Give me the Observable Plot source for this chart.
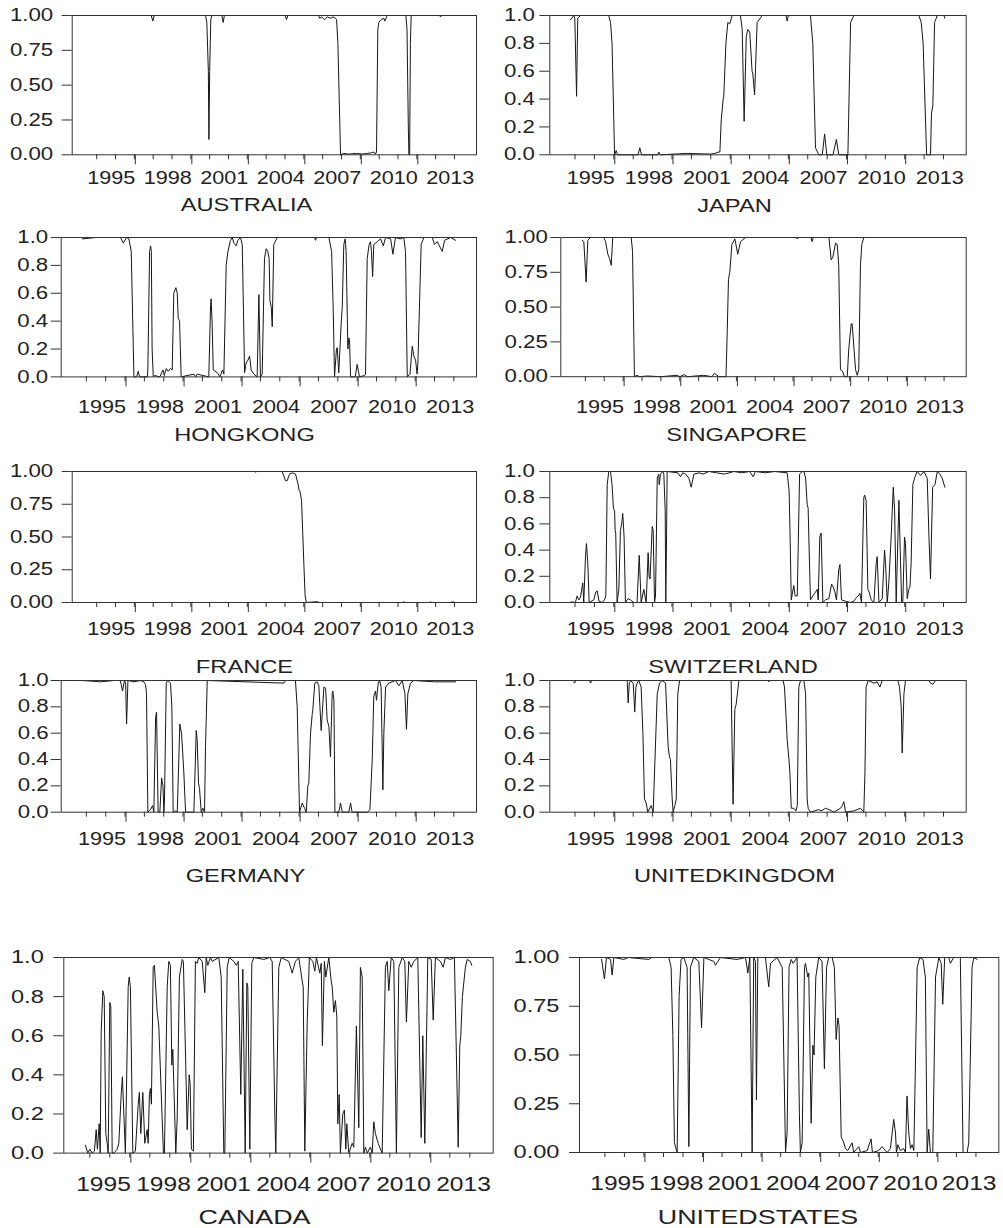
<!DOCTYPE html>
<html>
<head>
<meta charset="utf-8">
<script src="https://cdn.jsdelivr.net/npm/d3@7"></script>
<script src="https://cdn.jsdelivr.net/npm/@observablehq/plot@0.6"></script>
<style>
  body { margin: 0; background: #fff; }
  #fig { position: relative; width: 1003px; height: 1228px; overflow: hidden; background: #fff; }
  #fig svg { position: absolute; }
</style>
</head>
<body>
<div id="fig"></div>
<script>
// ---------- tick values / labels ----------
const minorYears = [1993,1994,1995,1996,1997,1998,1999,2000,2001,2002,2003,2004,2005,2006,2007,2008,2009,2010,2011,2012];
const majorYears = [1995,1998,2001,2004,2007,2010];
const lastLabelYear = [2013];
const yTicksQuarter = [0, 0.25, 0.5, 0.75, 1];
const yTicksFifth = [0, 0.2, 0.4, 0.6, 0.8, 1];
const xDomain = [1991.7, 2013.17];

// ---------- series: [decimal year, probability] ----------
const AUSTRALIA = [[1992.75,1.0],[1995.9,1.0],[1995.98,0.96],[1996.06,1.0],[1998.78,1.0],[1998.85,0.95],[1998.93,0.6],[1998.96,0.11],[1999.0,0.6],[1999.06,0.97],[1999.12,1.0],[1999.65,1.0],[1999.72,0.95],[1999.78,1.0],[2003.0,1.0],[2003.08,0.97],[2003.15,1.0],[2004.78,1.0],[2004.85,0.98],[2004.95,0.99],[2005.1,0.97],[2005.25,0.99],[2005.4,0.98],[2005.55,0.99],[2005.68,0.98],[2005.74,0.97],[2005.81,0.8],[2005.88,0.4],[2005.95,0.0],[2006.1,0.01],[2006.4,0.005],[2006.8,0.01],[2007.1,0.005],[2007.4,0.01],[2007.6,0.015],[2007.72,0.02],[2007.8,0.005],[2007.86,0.02],[2007.93,0.9],[2007.98,0.95],[2008.1,0.97],[2008.25,0.98],[2008.3,0.96],[2008.43,1.0],[2009.42,1.0],[2009.48,0.9],[2009.55,0.2],[2009.58,0.0],[2009.62,0.0],[2009.66,0.8],[2009.7,1.0],[2011.2,1.0],[2011.26,0.99],[2011.32,1.0],[2012.05,1.0]];

const JAPAN = [[1992.77,0.97],[1992.94,1.0],[1992.99,0.98],[1993.08,0.42],[1993.14,0.98],[1993.28,1.0],[1994.74,1.0],[1994.83,0.95],[1994.91,0.8],[1995.04,0.0],[1995.12,0.03],[1995.2,0.0],[1996.25,0.0],[1996.34,0.05],[1996.43,0.0],[1997.25,0.0],[1997.32,0.02],[1997.4,0.0],[1998.78,0.01],[1999.99,0.005],[2000.2,0.01],[2000.42,0.02],[2000.47,0.02],[2000.54,0.25],[2000.64,0.4],[2000.67,0.42],[2000.78,0.8],[2000.88,0.95],[2000.98,0.94],[2001.1,1.0],[2001.53,1.0],[2001.62,0.9],[2001.72,0.24],[2001.83,0.85],[2001.91,0.9],[2002.01,0.88],[2002.13,0.6],[2002.17,0.58],[2002.26,0.43],[2002.39,0.95],[2002.65,1.0],[2003.88,1.0],[2003.94,0.96],[2004.0,1.0],[2005.14,1.0],[2005.26,0.8],[2005.4,0.05],[2005.57,0.0],[2005.75,0.0],[2005.87,0.15],[2005.98,0.0],[2006.3,0.0],[2006.48,0.11],[2006.6,0.0],[2007.07,0.0],[2007.21,0.95],[2007.38,1.0],[2010.73,1.0],[2010.85,0.95],[2010.95,0.8],[2011.06,0.3],[2011.13,0.0],[2011.33,0.0],[2011.38,0.3],[2011.45,0.35],[2011.54,0.95],[2011.68,1.0],[2012.02,1.0],[2012.07,0.98]];

const HONGKONG = [[1992.79,0.99],[1993.5,1.0],[1994.77,1.0],[1994.91,0.96],[1995.08,1.0],[1995.2,0.99],[1995.32,0.9],[1995.46,0.0],[1995.6,0.0],[1995.68,0.04],[1995.75,0.0],[1996.15,0.0],[1996.18,0.05],[1996.27,0.9],[1996.32,0.94],[1996.36,0.9],[1996.4,0.2],[1996.46,0.0],[1996.53,0.01],[1996.8,0.0],[1996.96,0.05],[1997.03,0.01],[1997.13,0.06],[1997.23,0.04],[1997.35,0.06],[1997.44,0.05],[1997.52,0.6],[1997.63,0.64],[1997.7,0.6],[1997.75,0.42],[1997.82,0.4],[1997.9,0.0],[1998.56,0.02],[1998.65,0.0],[1998.73,0.02],[1999.33,0.0],[1999.42,0.5],[1999.45,0.56],[1999.5,0.4],[1999.56,0.05],[1999.77,0.03],[1999.9,0.0],[2000.04,0.05],[2000.11,0.02],[2000.23,0.8],[2000.32,0.9],[2000.45,0.98],[2000.54,1.0],[2000.63,0.96],[2000.75,0.94],[2000.83,0.98],[2000.97,1.0],[2001.06,0.95],[2001.18,0.03],[2001.26,0.1],[2001.35,0.12],[2001.44,0.15],[2001.52,0.05],[2001.66,0.02],[2001.83,0.0],[2001.92,0.59],[2002.0,0.0],[2002.09,0.02],[2002.21,0.85],[2002.3,0.92],[2002.38,0.9],[2002.45,0.85],[2002.49,0.55],[2002.56,0.5],[2002.61,0.36],[2002.69,0.95],[2002.87,1.0],[2004.8,1.0],[2004.85,0.98],[2004.9,1.0],[2005.54,1.0],[2005.68,0.9],[2005.76,0.5],[2005.83,0.0],[2005.93,0.2],[2005.97,0.21],[2006.05,0.03],[2006.18,0.4],[2006.23,0.5],[2006.31,0.95],[2006.38,0.99],[2006.43,0.9],[2006.52,0.2],[2006.57,0.28],[2006.61,0.25],[2006.66,0.0],[2006.9,0.0],[2007.0,0.09],[2007.12,0.0],[2007.38,0.01],[2007.43,0.02],[2007.52,0.85],[2007.62,0.95],[2007.69,0.97],[2007.74,0.9],[2007.8,0.72],[2007.86,0.95],[2008.04,0.97],[2008.21,0.99],[2008.35,0.94],[2008.47,1.0],[2008.73,0.99],[2008.85,0.88],[2008.98,1.0],[2009.24,0.99],[2009.41,1.0],[2009.5,0.9],[2009.59,0.0],[2009.73,0.02],[2009.85,0.22],[2009.93,0.15],[2010.02,0.12],[2010.1,0.02],[2010.14,0.1],[2010.31,0.95],[2010.45,1.0],[2010.88,1.0],[2011.0,0.95],[2011.14,0.97],[2011.4,0.9],[2011.52,0.98],[2011.83,1.0],[2012.09,0.98]];

const SINGAPORE = [[1992.83,0.98],[1992.92,0.97],[1993.04,0.68],[1993.13,0.98],[1993.27,1.0],[1993.98,1.0],[1994.07,0.97],[1994.19,0.88],[1994.28,0.85],[1994.37,0.8],[1994.45,1.0],[1995.43,1.0],[1995.5,0.9],[1995.6,0.0],[1995.74,0.01],[1995.85,0.0],[1996.27,0.005],[1997.0,0.0],[1997.86,0.01],[1998.0,0.0],[1998.25,0.015],[1998.4,0.0],[1999.27,0.01],[1999.7,0.0],[1999.84,0.025],[2000.07,0.0],[2000.45,0.0],[2000.51,0.3],[2000.58,0.7],[2000.65,0.75],[2000.76,0.95],[2000.92,0.99],[2001.07,0.88],[2001.22,0.97],[2001.48,1.0],[2004.15,1.0],[2004.22,0.99],[2004.3,1.0],[2004.95,1.0],[2005.01,0.97],[2005.07,1.0],[2005.9,1.0],[2006.02,0.84],[2006.11,0.86],[2006.25,0.96],[2006.34,0.95],[2006.42,0.8],[2006.51,0.05],[2006.62,0.04],[2006.72,0.0],[2006.87,0.0],[2006.95,0.2],[2007.08,0.38],[2007.13,0.38],[2007.31,0.05],[2007.4,0.01],[2007.48,0.05],[2007.57,0.8],[2007.64,0.95],[2007.75,1.0],[2012.04,1.0]];

const FRANCE = [[1992.76,1.0],[2001.4,1.0],[2001.45,0.995],[2001.5,1.0],[2002.85,1.0],[2002.9,0.98],[2003.03,0.93],[2003.12,0.93],[2003.24,0.98],[2003.38,0.99],[2003.56,0.98],[2003.7,0.9],[2003.74,0.86],[2003.79,0.85],[2003.88,0.78],[2003.95,0.5],[2004.0,0.3],[2004.07,0.05],[2004.14,0.0],[2004.6,0.005],[2004.71,0.006],[2004.85,0.0],[2009.2,0.0],[2009.31,0.004],[2009.4,0.0],[2010.65,0.0],[2010.73,0.004],[2010.8,0.0],[2011.8,0.0],[2011.88,0.005],[2012.05,0.0]];

const SWITZERLAND = [[1992.8,0.005],[1993.02,0.0],[1993.11,0.05],[1993.2,0.02],[1993.28,0.04],[1993.4,0.15],[1993.45,0.0],[1993.54,0.35],[1993.59,0.45],[1993.66,0.3],[1993.73,0.0],[1993.97,0.02],[1994.07,0.08],[1994.14,0.09],[1994.24,0.01],[1994.4,0.0],[1994.52,0.02],[1994.59,0.05],[1994.66,0.9],[1994.74,1.0],[1994.83,1.0],[1994.91,0.9],[1994.98,0.72],[1995.04,0.7],[1995.07,0.55],[1995.1,0.53],[1995.17,0.0],[1995.26,0.1],[1995.34,0.55],[1995.41,0.6],[1995.46,0.68],[1995.53,0.5],[1995.6,0.0],[1995.74,0.03],[1995.86,0.02],[1996.03,0.0],[1996.2,0.0],[1996.31,0.36],[1996.41,0.0],[1996.55,0.1],[1996.67,0.0],[1996.77,0.38],[1996.82,0.2],[1996.87,0.18],[1996.98,0.58],[1997.03,0.55],[1997.1,0.0],[1997.15,0.05],[1997.24,0.95],[1997.32,0.98],[1997.34,0.9],[1997.41,0.98],[1997.53,1.0],[1997.58,0.98],[1997.65,0.7],[1997.68,0.0],[1997.72,0.5],[1997.75,1.0],[1998.3,0.99],[1998.44,0.96],[1998.55,0.99],[1998.7,0.98],[1998.87,0.95],[1998.99,0.88],[1999.13,0.98],[1999.4,0.99],[1999.6,0.98],[1999.9,1.0],[2000.3,0.99],[2000.7,0.98],[2001.2,1.0],[2001.6,0.99],[2002.0,1.0],[2002.19,0.96],[2002.3,1.0],[2002.8,0.99],[2003.3,1.0],[2003.94,0.99],[2003.97,0.95],[2004.04,0.85],[2004.09,0.5],[2004.15,0.02],[2004.22,0.08],[2004.28,0.13],[2004.35,0.05],[2004.46,0.05],[2004.58,0.98],[2004.72,1.0],[2004.8,1.0],[2004.89,0.95],[2004.97,0.75],[2005.02,0.72],[2005.09,0.3],[2005.14,0.02],[2005.26,0.05],[2005.4,0.08],[2005.49,0.1],[2005.54,0.02],[2005.62,0.5],[2005.69,0.53],[2005.78,0.0],[2005.92,0.02],[2006.09,0.03],[2006.23,0.14],[2006.31,0.12],[2006.4,0.08],[2006.48,0.02],[2006.6,0.25],[2006.66,0.29],[2006.74,0.02],[2006.95,0.01],[2007.2,0.0],[2007.38,0.01],[2007.46,0.03],[2007.6,0.05],[2007.69,0.07],[2007.77,0.0],[2007.89,0.8],[2007.93,0.82],[2008.01,0.78],[2008.1,0.1],[2008.17,0.08],[2008.27,0.02],[2008.41,0.0],[2008.53,0.3],[2008.58,0.35],[2008.67,0.0],[2008.84,0.03],[2008.96,0.4],[2009.01,0.3],[2009.1,0.0],[2009.18,0.15],[2009.3,0.5],[2009.41,0.88],[2009.48,0.7],[2009.56,0.0],[2009.7,0.78],[2009.75,0.5],[2009.84,0.0],[2009.9,0.0],[2009.99,0.5],[2010.04,0.45],[2010.13,0.03],[2010.21,0.1],[2010.27,0.12],[2010.33,0.3],[2010.42,0.9],[2010.51,0.95],[2010.64,1.0],[2010.82,0.97],[2010.99,1.0],[2011.16,0.95],[2011.25,0.5],[2011.33,0.18],[2011.44,0.88],[2011.56,0.9],[2011.68,1.0],[2011.81,0.98],[2011.93,0.95],[2012.07,0.88]];

const GERMANY = [[1992.79,1.0],[1993.73,0.99],[1994.42,1.0],[1994.75,1.0],[1994.8,0.97],[1994.87,0.92],[1994.97,1.0],[1995.03,0.98],[1995.08,0.67],[1995.15,1.0],[1995.46,0.99],[1995.8,1.0],[1995.97,0.99],[1996.06,0.97],[1996.11,0.9],[1996.18,0.0],[1996.32,0.02],[1996.42,0.05],[1996.49,0.0],[1996.58,0.72],[1996.63,0.76],[1996.71,0.0],[1996.8,0.0],[1996.89,0.26],[1996.96,0.2],[1997.01,0.0],[1997.04,0.1],[1997.13,0.98],[1997.21,1.0],[1997.35,0.98],[1997.42,0.8],[1997.49,0.0],[1997.61,0.01],[1997.7,0.0],[1997.78,0.4],[1997.83,0.67],[1997.92,0.6],[1997.97,0.48],[1998.04,0.3],[1998.13,0.0],[1998.56,0.0],[1998.68,0.62],[1998.73,0.55],[1998.8,0.22],[1998.85,0.18],[1998.94,0.0],[1999.02,0.03],[1999.11,0.0],[1999.16,0.5],[1999.25,1.0],[2003.21,0.98],[2003.3,1.0],[2003.81,1.0],[2003.9,0.8],[2004.02,0.0],[2004.16,0.07],[2004.28,0.03],[2004.37,0.0],[2004.45,0.2],[2004.5,0.22],[2004.59,0.6],[2004.68,0.75],[2004.71,0.78],[2004.81,0.98],[2004.93,0.99],[2005.02,0.96],[2005.14,0.62],[2005.28,0.95],[2005.37,0.94],[2005.45,0.7],[2005.54,0.65],[2005.62,0.42],[2005.71,0.9],[2005.74,0.92],[2005.8,0.85],[2005.85,0.0],[2006.05,0.0],[2006.14,0.07],[2006.23,0.0],[2006.57,0.0],[2006.66,0.07],[2006.74,0.0],[2007.52,0.0],[2007.6,0.01],[2007.66,0.02],[2007.78,0.4],[2007.86,0.88],[2007.95,0.92],[2008.0,0.85],[2008.09,0.98],[2008.16,1.0],[2008.24,0.95],[2008.33,0.17],[2008.38,0.6],[2008.47,0.95],[2008.64,0.98],[2008.98,1.0],[2009.16,0.96],[2009.33,1.0],[2009.47,0.9],[2009.55,0.63],[2009.62,0.9],[2009.76,0.98],[2009.93,1.0],[2011.0,0.99],[2012.09,0.99]];

const UNITEDKINGDOM = [[1992.94,0.99],[1992.97,0.98],[1993.05,1.0],[1993.75,1.0],[1993.8,0.98],[1993.86,1.0],[1995.69,1.0],[1995.74,0.83],[1995.8,0.98],[1995.86,1.0],[1996.0,0.98],[1996.08,0.76],[1996.14,0.95],[1996.2,0.98],[1996.29,1.0],[1996.41,0.95],[1996.5,0.6],[1996.58,0.1],[1996.67,0.07],[1996.75,0.0],[1996.93,0.05],[1997.03,0.0],[1997.24,0.9],[1997.36,0.98],[1997.49,1.0],[1997.67,0.98],[1997.8,0.5],[1997.87,0.42],[1997.92,0.4],[1998.01,0.1],[1998.06,0.0],[1998.15,0.05],[1998.22,0.1],[1998.3,0.9],[1998.39,1.0],[2001.05,1.0],[2001.1,0.5],[2001.15,0.06],[2001.24,0.78],[2001.31,0.82],[2001.45,1.0],[2002.95,1.0],[2002.99,0.99],[2003.05,1.0],[2003.73,1.0],[2003.8,0.95],[2003.89,0.7],[2003.94,0.55],[2004.03,0.4],[2004.08,0.3],[2004.15,0.03],[2004.28,0.03],[2004.39,0.01],[2004.46,0.05],[2004.54,0.95],[2004.63,1.0],[2004.8,1.0],[2004.89,0.9],[2004.97,0.1],[2005.02,0.03],[2005.14,0.0],[2005.57,0.02],[2005.69,0.01],[2005.92,0.03],[2006.09,0.02],[2006.35,0.0],[2006.69,0.03],[2006.78,0.05],[2006.86,0.08],[2006.95,0.0],[2007.38,0.01],[2007.72,0.03],[2007.89,0.0],[2007.95,0.3],[2008.01,0.95],[2008.12,1.0],[2008.41,0.98],[2008.58,0.99],[2008.72,0.95],[2008.84,1.0],[2009.65,1.0],[2009.73,0.95],[2009.82,0.8],[2009.87,0.45],[2009.96,0.9],[2010.04,1.0],[2011.25,1.0],[2011.33,0.98],[2011.45,0.97],[2011.59,1.0],[2012.07,1.0]];

const CANADA = [[1992.78,0.04],[1992.9,0.0],[1993.0,0.02],[1993.12,0.0],[1993.23,0.01],[1993.32,0.12],[1993.38,0.02],[1993.47,0.15],[1993.52,0.0],[1993.57,0.62],[1993.65,0.83],[1993.72,0.8],[1993.8,0.1],[1993.87,0.05],[1993.92,0.0],[1994.0,0.77],[1994.05,0.75],[1994.12,0.0],[1994.2,0.0],[1994.37,0.02],[1994.45,0.05],[1994.57,0.3],[1994.63,0.39],[1994.78,0.0],[1994.92,0.85],[1994.97,0.9],[1995.03,0.85],[1995.15,0.0],[1995.28,0.01],[1995.42,0.25],[1995.48,0.31],[1995.55,0.1],[1995.65,0.31],[1995.75,0.05],[1995.87,0.12],[1995.92,0.05],[1995.98,0.3],[1996.03,0.33],[1996.08,0.25],[1996.17,0.95],[1996.23,0.96],[1996.37,0.72],[1996.45,0.65],[1996.68,0.0],[1996.73,0.0],[1996.87,0.85],[1996.95,0.98],[1997.03,0.96],[1997.1,0.45],[1997.15,0.53],[1997.3,0.0],[1997.37,0.18],[1997.48,0.9],[1997.62,0.99],[1997.68,0.98],[1997.87,0.12],[1997.97,0.4],[1998.02,0.35],[1998.08,0.02],[1998.18,0.01],[1998.28,0.98],[1998.37,0.97],[1998.45,1.0],[1998.62,0.98],[1998.75,0.82],[1998.82,1.0],[1998.9,0.96],[1999.03,1.0],[1999.12,0.98],[1999.45,1.0],[1999.57,0.9],[1999.7,0.0],[1999.75,0.0],[1999.87,0.95],[1999.97,1.0],[2000.2,0.98],[2000.33,0.96],[2000.42,0.98],[2000.55,0.3],[2000.65,0.94],[2000.77,0.0],[2000.85,0.87],[2000.9,0.85],[2001.0,0.02],[2001.1,0.97],[2001.2,1.0],[2001.7,0.99],[2002.0,1.0],[2002.12,0.98],[2002.25,0.2],[2002.3,0.0],[2002.45,0.95],[2002.57,1.0],[2002.95,0.98],[2003.12,0.92],[2003.28,0.98],[2003.45,1.0],[2003.62,0.88],[2003.67,0.85],[2003.75,0.01],[2003.87,0.67],[2003.98,1.0],[2004.15,0.98],[2004.25,0.93],[2004.33,1.0],[2004.5,0.92],[2004.57,0.97],[2004.63,0.55],[2004.73,0.98],[2004.8,0.9],[2004.95,1.0],[2005.07,0.88],[2005.12,0.85],[2005.2,0.72],[2005.28,0.78],[2005.35,0.7],[2005.4,0.15],[2005.47,0.3],[2005.53,0.0],[2005.65,0.2],[2005.73,0.22],[2005.8,0.02],[2005.85,0.15],[2005.95,0.0],[2006.12,0.05],[2006.2,0.03],[2006.33,0.65],[2006.45,0.13],[2006.53,0.95],[2006.62,0.9],[2006.7,0.0],[2006.78,0.03],[2006.87,0.0],[2007.03,0.03],[2007.12,0.0],[2007.2,0.16],[2007.28,0.1],[2007.42,0.05],[2007.62,0.0],[2007.78,0.95],[2007.87,0.98],[2007.95,0.83],[2008.07,1.0],[2008.2,0.98],[2008.33,0.0],[2008.45,0.95],[2008.62,1.0],[2008.75,0.98],[2008.83,0.67],[2008.95,0.98],[2009.07,0.95],[2009.2,0.98],[2009.4,1.0],[2009.57,0.08],[2009.65,0.6],[2009.75,0.05],[2009.9,1.0],[2010.07,0.99],[2010.17,0.68],[2010.28,1.0],[2010.53,0.98],[2010.67,0.95],[2010.78,1.0],[2011.03,0.99],[2011.23,1.0],[2011.33,0.5],[2011.42,0.03],[2011.5,0.55],[2011.55,0.6],[2011.63,0.8],[2011.68,0.85],[2011.78,0.95],[2011.87,0.99],[2012.03,0.98],[2012.1,0.96]];

const UNITEDSTATES = [[1992.83,0.99],[1992.98,0.89],[1993.08,1.0],[1993.29,0.99],[1993.37,0.91],[1993.46,1.0],[1993.97,0.99],[1994.2,1.0],[1995.25,0.99],[1995.4,1.0],[1996.27,1.0],[1996.39,0.95],[1996.48,0.6],[1996.56,0.05],[1996.7,0.0],[1996.8,0.8],[1996.9,0.99],[1997.04,1.0],[1997.21,0.95],[1997.3,0.03],[1997.38,0.95],[1997.55,1.0],[1997.81,0.98],[1997.95,0.64],[1998.07,1.0],[1998.58,0.98],[1998.66,0.96],[1998.92,1.0],[1999.77,0.99],[2000.2,1.0],[2000.32,0.92],[2000.42,1.0],[2000.54,0.0],[2000.62,1.0],[2000.71,0.98],[2000.76,0.27],[2000.83,1.0],[2001.22,1.0],[2001.39,0.85],[2001.48,0.97],[2001.82,1.0],[2002.08,0.95],[2002.16,0.5],[2002.25,0.0],[2002.33,0.1],[2002.43,0.95],[2002.54,0.99],[2002.64,0.97],[2002.84,1.0],[2002.96,0.2],[2003.01,0.0],[2003.1,0.05],[2003.22,0.95],[2003.27,0.97],[2003.39,0.9],[2003.44,0.92],[2003.56,0.15],[2003.65,0.55],[2003.71,0.5],[2003.8,0.9],[2003.95,1.0],[2004.12,0.98],[2004.24,0.43],[2004.35,0.95],[2004.46,1.0],[2004.64,1.0],[2004.75,0.95],[2004.84,0.58],[2004.93,0.69],[2004.99,0.65],[2005.1,0.08],[2005.2,0.06],[2005.32,0.02],[2005.44,0.01],[2005.66,0.05],[2005.74,0.0],[2006.0,0.03],[2006.09,0.0],[2006.43,0.01],[2006.63,0.07],[2006.7,0.0],[2007.02,0.01],[2007.19,0.03],[2007.45,0.0],[2007.62,0.02],[2007.79,0.17],[2007.88,0.1],[2007.93,0.0],[2008.0,0.04],[2008.13,0.01],[2008.3,0.02],[2008.39,0.0],[2008.47,0.29],[2008.56,0.1],[2008.65,0.02],[2008.73,0.04],[2008.82,0.01],[2008.99,0.95],[2009.12,1.0],[2009.29,0.99],[2009.41,0.9],[2009.5,0.0],[2009.58,0.12],[2009.67,0.0],[2009.79,0.0],[2009.93,0.9],[2010.1,1.0],[2010.22,0.97],[2010.3,0.76],[2010.4,1.0],[2010.61,1.0],[2010.69,0.97],[2010.86,1.0],[2011.2,1.0],[2011.34,0.0],[2011.55,0.0],[2011.63,0.05],[2011.8,0.95],[2011.89,1.0],[2012.06,0.99]];

// ---------- layout (positions / styles only) ----------
const layout = [
  {name:"AUSTRALIA",     series:AUSTRALIA,     yTicks:yTicksQuarter, yFmt:".2f", col:0, L:71.7,  R:476,   T:15,    B:154.3,  yPad:9,   xPad:5.7,  titleX:246,   titleY:210.5, fsY:17.5, fsX:18.5, fsT:18.5},
  {name:"JAPAN",         series:JAPAN,         yTicks:yTicksFifth,   yFmt:".1f", col:1, L:549.3, R:965.7, T:15,    B:154.3,  yPad:5,   xPad:5.7,  titleX:734,   titleY:211,   fsY:17.5, fsX:18.5, fsT:18.5},
  {name:"HONGKONG",      series:HONGKONG,      yTicks:yTicksFifth,   yFmt:".1f", col:0, L:60.7,  R:476,   T:237.3, B:376.7,  yPad:3,   xPad:13.3, titleX:244,   titleY:441,   fsY:17.5, fsX:18.5, fsT:18.5},
  {name:"SINGAPORE",     series:SINGAPORE,     yTicks:yTicksQuarter, yFmt:".2f", col:1, L:560.3, R:965.7, T:237.3, B:376.5,  yPad:3,   xPad:13.3, titleX:736,   titleY:441,   fsY:17.5, fsX:18.5, fsT:18.5},
  {name:"FRANCE",        series:FRANCE,        yTicks:yTicksQuarter, yFmt:".2f", col:0, L:71.7,  R:476,   T:471,   B:602,    yPad:9,   xPad:9.7,  titleX:244,   titleY:672,   fsY:17.5, fsX:18.5, fsT:18.5},
  {name:"SWITZERLAND",   series:SWITZERLAND,   yTicks:yTicksFifth,   yFmt:".1f", col:1, L:549.3, R:965.7, T:471,   B:602,    yPad:5,   xPad:9.7,  titleX:732.5, titleY:672,   fsY:17.5, fsX:18.5, fsT:18.5},
  {name:"GERMANY",       series:GERMANY,       yTicks:yTicksFifth,   yFmt:".1f", col:0, L:60.7,  R:476,   T:680,   B:811.7,  yPad:2.5, xPad:10,   titleX:245,   titleY:881,   fsY:17.5, fsX:18.5, fsT:18.5},
  {name:"UNITEDKINGDOM", series:UNITEDKINGDOM, yTicks:yTicksFifth,   yFmt:".1f", col:1, L:549.3, R:965.7, T:680,   B:811.7,  yPad:5,   xPad:10,   titleX:734,   titleY:881,   fsY:17.5, fsX:18.5, fsT:18.5},
  {name:"CANADA",        series:CANADA,        yTicks:yTicksFifth,   yFmt:".1f", col:0, L:63.3,  R:492.7, T:956.7, B:1152.3, yPad:10,  xPad:12.7, titleX:254,   titleY:1223,  fsY:18.6, fsX:21,   fsT:21},
  {name:"UNITEDSTATES",  series:UNITEDSTATES,  yTicks:yTicksQuarter, yFmt:".2f", col:1, L:579,   R:998.3, T:956.7, B:1151.7, yPad:10,  xPad:12.7, titleX:757.5, titleY:1223.5,fsY:18.6, fsX:21,   fsT:21}
];

const stretch = {y: 1.27, x: 1.17, title: 1.28};
const ink = "#222";

// widen every text horizontally about its own anchor point (the reference lettering is wide)
function stretchTexts(svg) {
  svg.querySelectorAll("text").forEach(t => {
    const s = t.textContent.trim();
    if (!s) return;
    const k = /^\d{4}$/.test(s) ? stretch.x : /^\d\.\d+$/.test(s) ? stretch.y : stretch.title;
    if (t.hasAttribute("x") && !t.hasAttribute("transform")) {
      const x = t.getAttribute("x");
      t.removeAttribute("x");
      t.setAttribute("transform", `translate(${x},0)`);
    }
    const tr = t.getAttribute("transform") || "";
    t.setAttribute("transform", tr + ` scale(${k},1)`);
  });
}

const fig = document.getElementById("fig");
for (const p of layout) {
  const left = p.col === 0 ? 0 : 500;
  const width = p.col === 0 ? 500 : 503;
  const top = p.T - 20;
  const height = Math.round(p.titleY + 12 - top);
  const svg = Plot.plot({
    width, height,
    marginLeft: p.L - left,
    marginRight: left + width - p.R,
    marginTop: p.T - top,
    marginBottom: top + height - p.B,
    x: {domain: xDomain, label: null},
    y: {domain: [0, 1], label: null},
    style: {background: "transparent", overflow: "visible", fontFamily: "'Liberation Sans', Arial, Helvetica, sans-serif", color: ink},
    marks: [
      Plot.axisY({ticks: p.yTicks, tickSize: 10, tickPadding: p.yPad, tickFormat: d3.format(p.yFmt), fontSize: p.fsY, label: null, stroke: "#333"}),
      Plot.axisX({ticks: minorYears, tickSize: 5, tickFormat: () => "", label: null, stroke: "#333"}),
      Plot.axisX({ticks: majorYears, tickSize: 10, tickPadding: p.xPad, tickFormat: d => String(d), textAnchor: "end", dx: 1, fontSize: p.fsX, label: null, stroke: "#333"}),
      Plot.axisX({ticks: lastLabelYear, tickSize: 0, tickPadding: 10 + p.xPad, tickFormat: d => String(d), textAnchor: "end", dx: 1, fontSize: p.fsX, label: null}),
      Plot.line(p.series, {x: d => d[0], y: d => d[1], stroke: "#161616", strokeWidth: 1}),
      Plot.frame({stroke: "#333", strokeWidth: 1}),
      Plot.text([p.name], {frameAnchor: "bottom", dx: p.titleX - (p.L + p.R) / 2, dy: p.titleY - p.B, lineAnchor: "bottom", textAnchor: "middle", fontSize: p.fsT, fill: ink})
    ]
  });
  svg.style.left = left + "px";
  svg.style.top = top + "px";
  stretchTexts(svg);
  fig.appendChild(svg);
}
</script>
</body>
</html>
